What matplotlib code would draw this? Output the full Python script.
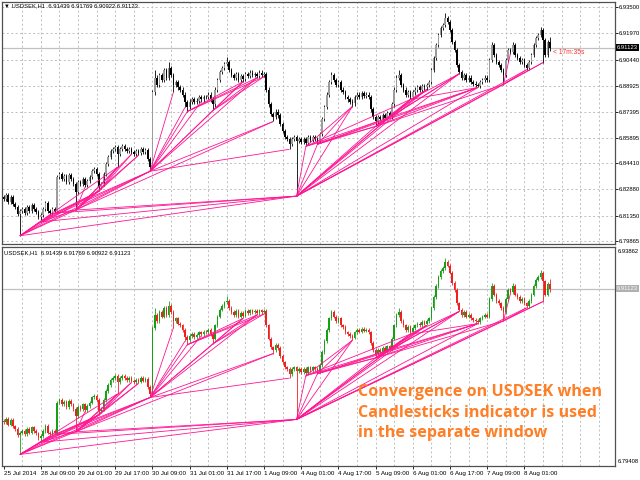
import numpy as np
import matplotlib
matplotlib.use("Agg")
import matplotlib.pyplot as plt
from matplotlib.collections import LineCollection

# USDSEK H1 closes, one per bar
closes = [
    6.8231, 6.8254, 6.8214, 6.8243, 6.8202, 6.8185, 6.8144, 6.8161, 6.8173, 6.8150,
    6.8185, 6.8161, 6.8196, 6.8173, 6.8156, 6.8127, 6.8138, 6.8173, 6.8208, 6.8161,
    6.8150, 6.8173, 6.8161, 6.8359, 6.8376, 6.8347, 6.8364, 6.8330, 6.8370, 6.8347,
    6.8318, 6.8272, 6.8330, 6.8318, 6.8347, 6.8312, 6.8335, 6.8359, 6.8393, 6.8405,
    6.8376, 6.8301, 6.8318, 6.8376, 6.8434, 6.8475, 6.8509, 6.8521, 6.8533, 6.8492,
    6.8521, 6.8538, 6.8521, 6.8509, 6.8521, 6.8504, 6.8492, 6.8509, 6.8498, 6.8521,
    6.8504, 6.8515, 6.8463, 6.8417, 6.8852, 6.8939, 6.8898, 6.8956, 6.8927, 6.8985,
    6.8939, 6.8997, 6.8956, 6.8898, 6.8915, 6.8881, 6.8869, 6.8840, 6.8794, 6.8770,
    6.8799, 6.8811, 6.8794, 6.8805, 6.8823, 6.8811, 6.8828, 6.8823, 6.8840, 6.8811,
    6.8782, 6.8869, 6.8927, 6.8973, 6.8997, 6.9020, 6.9031, 6.8985, 6.8956, 6.8939,
    6.8962, 6.8927, 6.8950, 6.8933, 6.8962, 6.8950, 6.8968, 6.8956, 6.8962, 6.8950,
    6.8968, 6.8956, 6.8962, 6.8869, 6.8782, 6.8724, 6.8707, 6.8741, 6.8718, 6.8666,
    6.8625, 6.8591, 6.8579, 6.8550, 6.8579, 6.8591, 6.8567, 6.8579, 6.8562, 6.8579,
    6.8556, 6.8591, 6.8573, 6.8591, 6.8579, 6.8567, 6.8608, 6.8695, 6.8765, 6.8840,
    6.8915, 6.8956, 6.8927, 6.8898, 6.8915, 6.8869, 6.8857, 6.8823, 6.8811, 6.8799,
    6.8788, 6.8823, 6.8840, 6.8828, 6.8846, 6.8834, 6.8840, 6.8823, 6.8753, 6.8707,
    6.8683, 6.8707, 6.8695, 6.8718, 6.8701, 6.8730, 6.8712, 6.8782, 6.8869, 6.8939,
    6.8956, 6.8898, 6.8869, 6.8840, 6.8857, 6.8823, 6.8852, 6.8869, 6.8881, 6.8869,
    6.8892, 6.8881, 6.8898, 6.8915, 6.8985, 6.9055, 6.9130, 6.9188, 6.9229, 6.9246,
    6.9287, 6.9263, 6.9217, 6.9147, 6.9101, 6.9014, 6.8973, 6.8939, 6.8956, 6.8927,
    6.8939, 6.8915, 6.8904, 6.8898, 6.8892, 6.8915, 6.8927, 6.8939, 6.8927, 6.9043,
    6.9130, 6.9072, 6.9031, 6.9014, 6.8985, 6.8956, 6.9043, 6.9101, 6.9089, 6.9130,
    6.9072, 6.9055, 6.9031, 6.9043, 6.9014, 6.8997, 6.9031, 6.9072, 6.9130, 6.9171,
    6.9188, 6.9217, 6.9159, 6.9072, 6.91439, 6.91123,
]
# long wicks that stick out of the usual candle range
long_lows = {7: 6.8017, 16: 6.8098, 31: 6.8167, 41: 6.8277, 49: 6.8417, 63: 6.8393,
             73: 6.8852, 78: 6.8765, 79: 6.8741, 90: 6.8747, 103: 6.8915, 116: 6.8683,
             123: 6.8521, 126: 6.8248, 130: 6.8538, 135: 6.8550, 150: 6.8770,
             160: 6.8654, 166: 6.8707, 175: 6.8811, 204: 6.8881, 215: 6.8898,
             225: 6.8985, 232: 6.9026, 235: 6.90922}
long_highs = {65: 6.8985, 71: 6.9031, 96: 6.9060, 141: 6.8973, 170: 6.8985,
              190: 6.9316, 210: 6.9147, 219: 6.9147, 231: 6.9234, 235: 6.91769}
# convergence lines: from a swing low bar to the later swing lows it is joined to
fans = {
    7: [16, 20, 22, 31, 41, 49, 63, 126],
    16: [22, 31, 41, 63, 126],
    22: [31, 41, 63, 126],
    31: [35, 41, 49, 55, 58, 63, 116, 126],
    41: [49, 55, 58],
    63: [73, 78, 79, 85, 90, 103, 109, 116, 123],
    79: [103, 109, 112],
    90: [103, 109, 112],
    126: [130, 135, 150, 160, 166, 175, 182, 196, 204, 215, 225, 232],
    130: [150, 160, 166, 175],
    135: [150, 160, 166, 204],
    160: [166, 175, 182, 196, 204, 215],
    166: [175, 182, 196, 204],
    175: [182, 196, 204],
    215: [218, 225, 232],
}

time_labels = ["25 Jul 2014", "28 Jul 09:00", "29 Jul 01:00", "29 Jul 17:00",
               "30 Jul 09:00", "31 Jul 01:00", "31 Jul 17:00", "1 Aug 09:00",
               "4 Aug 01:00", "4 Aug 17:00", "5 Aug 09:00", "6 Aug 01:00",
               "6 Aug 17:00", "7 Aug 09:00", "8 Aug 01:00"]
price_ticks = [6.93500, 6.91970, 6.90440, 6.88925, 6.87395, 6.85895,
               6.84410, 6.82880, 6.81350, 6.79865]
header = "USDSEK,H1  6.91439 6.91769 6.90922 6.91123"
bid = 6.91123
sub_top, sub_bottom = 6.93862, 6.79408

n = len(closes)
x = np.arange(n)
opens = [closes[0] + 0.0010] + closes[:-1]
opens[-1] = 6.91439
wick = 0.0012
highs = [long_highs.get(i, max(opens[i], closes[i]) + wick) for i in range(n)]
lows = [long_lows.get(i, min(opens[i], closes[i]) - wick) for i in range(n)]
body_lo = [min(o, c) for o, c in zip(opens, closes)]

segs = [[(a, lows[a]), (b, lows[b])] for a, targets in fans.items() for b in targets]

W, H = 640, 480
fig = plt.figure(figsize=(6.4, 4.8), dpi=100)
ax1 = fig.add_axes([2 / W, (H - 244) / H, 613 / W, 242 / H])
ax2 = fig.add_axes([2 / W, (H - 466) / H, 613 / W, 219 / H])

lab = dict(fontsize=4.2, family="Liberation Sans")
grid_x = np.arange(8, 264, 8)
for ax in (ax1, ax2):
    ax.set_xlim(-0.7, 263)
    for gx in grid_x:
        ax.axvline(gx, color="#bdbdbd", lw=0.7, ls=(0, (2, 2.5)), zorder=0)
    ax.axhline(bid, color="#c0c0c0", lw=0.9, zorder=1)
    for s in ax.spines.values():
        s.set_color("#505050")
        s.set_linewidth(0.9)
    ax.yaxis.tick_right()
    ax.tick_params(axis="y", length=2, width=0.6, labelsize=4.2, pad=1, colors="#000000")

ax1.set_ylim(6.79690, 6.93791)
for py in price_ticks:
    ax1.axhline(py, color="#bdbdbd", lw=0.7, ls=(0, (2, 2.5)), zorder=0)
ax1.set_yticks(price_ticks)
ax1.set_yticklabels(["%.5f" % p for p in price_ticks], family="Liberation Sans")
ax1.set_xticks([])

ax2.set_ylim(sub_bottom, sub_top)
ax2.set_yticks([])

body_w = 0.7
up = [c >= o for o, c in zip(opens, closes)]
body_h = [max(abs(c - o), 0.0003) for o, c in zip(opens, closes)]

# top window: grey/black candles
ax1.vlines(x, lows, highs, color="#000000", lw=0.6, zorder=3)
ax1.bar(x, body_h, bottom=body_lo, width=body_w,
        color=["#9c9c9c" if u else "#000000" for u in up], edgecolor="none", zorder=4)

# separate window: green/red candles
cols = ["#16a016" if u else "#f02020" for u in up]
ax2.vlines(x, lows, highs, color=cols, lw=0.6, zorder=3)
ax2.bar(x, body_h, bottom=body_lo, width=body_w, color=cols, edgecolor="none", zorder=4)

for ax in (ax1, ax2):
    ax.add_collection(LineCollection(segs, colors="#ff1493", linewidths=0.6, zorder=5))

# headers and labels
ax1.text(0.004, 0.993, "\u25bc " + header, transform=ax1.transAxes,
         va="top", ha="left", **lab)
ax2.text(0.004, 0.985, header, transform=ax2.transAxes, va="top", ha="left", **lab)
ax1.text(n + 0.5, bid - 0.0025, "< 17m:35s", color="#ff3030", va="center",
         ha="left", fontsize=4.8, family="Liberation Sans")
ax1.text(1.003, bid, "%.5f" % bid, transform=ax1.get_yaxis_transform(),
         color="white", va="center", ha="left",
         bbox=dict(boxstyle="square,pad=0.15", fc="black", ec="none"), **lab)
ax2.text(1.003, bid, "%.5f" % bid, transform=ax2.get_yaxis_transform(),
         color="white", va="center", ha="left",
         bbox=dict(boxstyle="square,pad=0.15", fc="#b0b0b0", ec="none"), **lab)
ax2.text(1.005, 0.99, "%.5f" % sub_top, transform=ax2.transAxes, va="top", ha="left", **lab)
ax2.text(1.005, 0.01, "%.5f" % sub_bottom, transform=ax2.transAxes, va="bottom", ha="left", **lab)

ax2.set_xticks(np.arange(len(time_labels)) * 16)
ax2.set_xticklabels(time_labels, ha="left", family="Liberation Sans")
ax2.tick_params(axis="x", length=2, width=0.6, labelsize=4.5, pad=1.5)

fig.text(358 / W, 1 - 384 / H, "Convergence on USDSEK when\nCandlesticks indicator is used\nin the separate window",
         color="#ff7f27", fontsize=11.6, fontweight="bold", family="Open Sans",
         va="top", ha="left", linespacing=1.38)

fig.savefig("out.png", dpi=100, facecolor="white")
